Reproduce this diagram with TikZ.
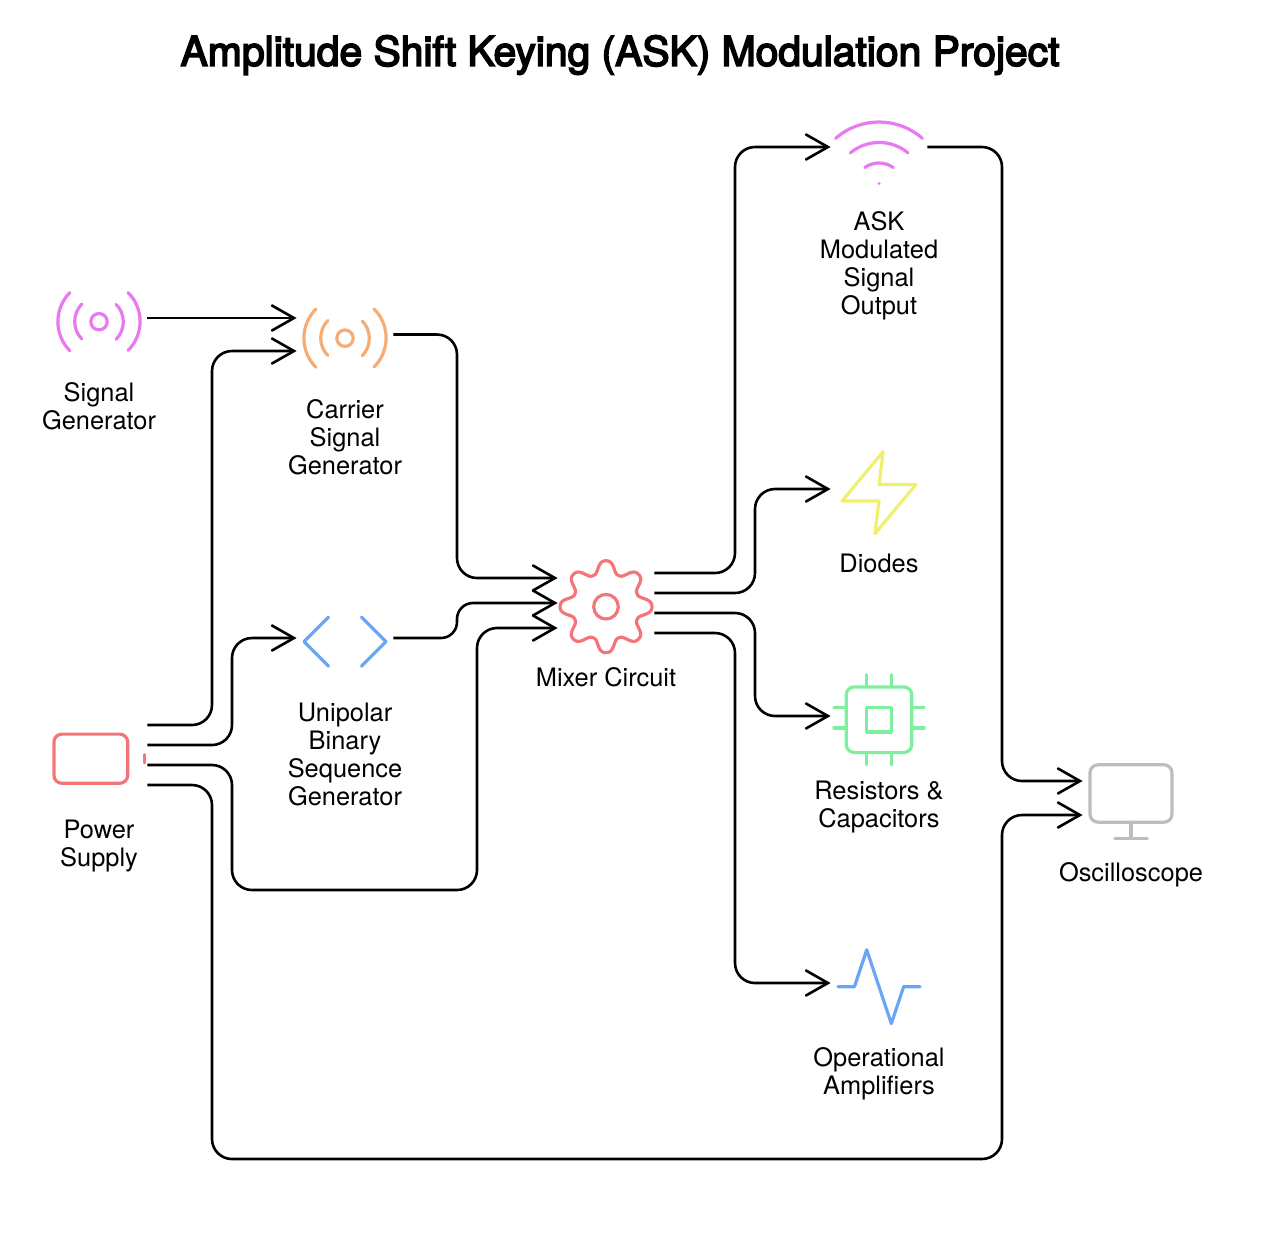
\documentclass[tikz,border=0pt]{standalone}
\usepackage{fontspec}
\setmainfont{TeX Gyre Heros}
\newfontfamily\titlefont[FakeBold=4]{TeX Gyre Heros}
\usepackage{tikz}
\usetikzlibrary{arrows.meta, positioning}
\definecolor{iconpink}{HTML}{E879F0}
\definecolor{iconorange}{HTML}{F5AC75}
\definecolor{iconred}{HTML}{F47578}
\definecolor{iconblue}{HTML}{68A5F5}
\definecolor{iconyellow}{HTML}{F0F070}
\definecolor{icongreen}{HTML}{7DF0A0}
\definecolor{icongray}{HTML}{BDBDBD}
\newcommand{\radioicon}{
  \draw (4.9,19.1) .. controls (1,15.2) and (1,8.8) .. (4.9,4.9);
  \draw (7.8,16.2) .. controls (5.5,13.9) and (5.5,10.1) .. (7.8,7.7);
  \draw (12,12) circle[radius=2];
  \draw (16.2,7.8) .. controls (18.5,10.1) and (18.5,13.9) .. (16.2,16.3);
  \draw (19.1,4.9) .. controls (23,8.8) and (23,15.1) .. (19.1,19);
}
\tikzset{
  iconbox/.style={minimum size=48pt,inner sep=0pt},
  iconat/.style={shift={(#1)},scale=4.1,shift={(-12,-11.1)}},
  iconline/.style={line width=1.6pt,line cap=round,line join=round},
  caption/.style={below=8pt of #1,inner sep=0pt,align=center,font=\fontsize{12.7}{14}\selectfont},
  wire/.style={line width=1.3pt,rounded corners=10pt,-{Straight Barb[length=11pt,width=12.5pt,line cap=round]}}
}
\begin{document}
\begin{tikzpicture}[x=0.5pt,y=-0.5pt]
  \useasboundingbox (0,0) rectangle (1283,1233);
  \node[font=\fontsize{20.4}{24}\titlefont] (title) at (620,55) {Amplitude Shift Keying (ASK) Modulation Project};

  \node[iconbox] (siggen) at (99,318) {};
  \node[iconbox] (carrier) at (345,334.5) {};
  \node[iconbox] (unipolar) at (345,638) {};
  \node[iconbox] (power) at (99,755) {};
  \node[iconbox] (mixer) at (606,603) {};
  \node[iconbox] (askout) at (879,147) {};
  \node[iconbox] (diodes) at (879,489) {};
  \node[iconbox] (rescap) at (879,716) {};
  \node[iconbox] (opamps) at (879,983) {};
  \node[iconbox] (scope) at (1131,798) {};

  \node[caption=siggen] (siggenlabel) {Signal\\Generator};
  \node[caption=carrier] (carrierlabel) {Carrier\\Signal\\Generator};
  \node[caption=unipolar] (unipolarlabel) {Unipolar\\Binary\\Sequence\\Generator};
  \node[caption=power] (powerlabel) {Power\\Supply};
  \node[caption=mixer] (mixerlabel) {Mixer Circuit};
  \node[caption=askout] (askoutlabel) {ASK\\Modulated\\Signal\\Output};
  \node[caption=diodes] (diodeslabel) {Diodes};
  \node[caption=rescap] (rescaplabel) {Resistors \&\\Capacitors};
  \node[caption=opamps] (opampslabel) {Operational\\Amplifiers};
  \node[caption=scope] (scopelabel) {Oscilloscope};

  \begin{scope}[iconat=siggen.center,iconline,iconpink]
    \radioicon
  \end{scope}
  \begin{scope}[iconat=carrier.center,iconline,iconorange]
    \radioicon
  \end{scope}
  \begin{scope}[iconat=unipolar.center,iconline,iconblue]
    \draw (16,18) -- (22,12) -- (16,6);
    \draw (8,6) -- (2,12) -- (8,18);
  \end{scope}
  \begin{scope}[iconat=power.center,iconline,iconred]
    \draw[rounded corners=4pt] (1,6) rectangle (19,18);
    \draw (23,13) -- (23,11);
  \end{scope}
  \begin{scope}[iconat=mixer.center,iconline,iconred]
    \draw plot[domain=0:358.75,samples=288,smooth cycle] ({12+(9.7+1.5*(1.08*cos(8*\x)-0.08*cos(24*\x)))*cos(\x)},{12+(9.7+1.5*(1.08*cos(8*\x)-0.08*cos(24*\x)))*sin(\x)});
    \draw (12,12) circle[radius=3];
  \end{scope}
  \begin{scope}[iconat=askout.center,iconline,iconpink]
    \draw (5,12.55) arc[start angle=230.2,end angle=309.8,radius=11];
    \draw (1.42,9) arc[start angle=228.6,end angle=311.4,radius=16];
    \draw (8.53,16.11) arc[start angle=234.6,end angle=305.4,radius=6];
    \draw (12,20) -- (12.01,20);
  \end{scope}
  \begin{scope}[iconat=diodes.center,iconline,iconyellow]
    \draw (13,2) -- (3,14) -- (12,14) -- (11,22) -- (21,10) -- (12,10) -- cycle;
  \end{scope}
  \begin{scope}[iconat=rescap.center,iconline,icongreen]
    \draw[rounded corners=4pt] (4,4) rectangle (20,20);
    \draw (9,9) rectangle (15,15);
    \foreach \p in {9,15} {
      \draw (\p,1) -- (\p,4);
      \draw (\p,20) -- (\p,23);
    }
    \foreach \p in {9,14} {
      \draw (20,\p) -- (23,\p);
      \draw (1,\p) -- (4,\p);
    }
  \end{scope}
  \begin{scope}[iconat=opamps.center,iconline,iconblue]
    \draw (22,12) -- (18,12) -- (15,21) -- (9,3) -- (6,12) -- (2,12);
  \end{scope}
  \begin{scope}[iconat=scope.center,iconline,icongray]
    \draw[rounded corners=4pt] (2,3) rectangle (22,17);
    \draw (8,21) -- (16,21);
    \draw (12,17) -- (12,21);
  \end{scope}

  \draw[wire] (siggen.east) -- ([yshift=8.25pt]carrier.west);
  \draw[wire] ([yshift=15pt]power.east) -| (212,351) -- ([yshift=-8.25pt]carrier.west);
  \draw[wire] ([yshift=5pt]power.east) -| (232,638) -- (unipolar.west);
  \draw[wire] ([yshift=-5pt]power.east) -| (232,890) -| (477,628) -- ([yshift=-12.5pt]mixer.west);
  \draw[wire] ([yshift=-15pt]power.east) -| (212,1159) -| (1002,815) -- ([yshift=-8.5pt]scope.west);
  \draw[wire] (carrier.east) -| (457,578) -- ([yshift=12.5pt]mixer.west);
  \draw[wire,rounded corners=8pt] (unipolar.east) -| (457,603) -- (mixer.west);
  \draw[wire] ([yshift=15pt]mixer.east) -| (735,147) -- (askout.west);
  \draw[wire] ([yshift=5pt]mixer.east) -| (755,489) -- (diodes.west);
  \draw[wire] ([yshift=-5pt]mixer.east) -| (755,716) -- (rescap.west);
  \draw[wire] ([yshift=-15pt]mixer.east) -| (735,983) -- (opamps.west);
  \draw[wire] (askout.east) -| (1002,781) -- ([yshift=8.5pt]scope.west);
\end{tikzpicture}
\end{document}
